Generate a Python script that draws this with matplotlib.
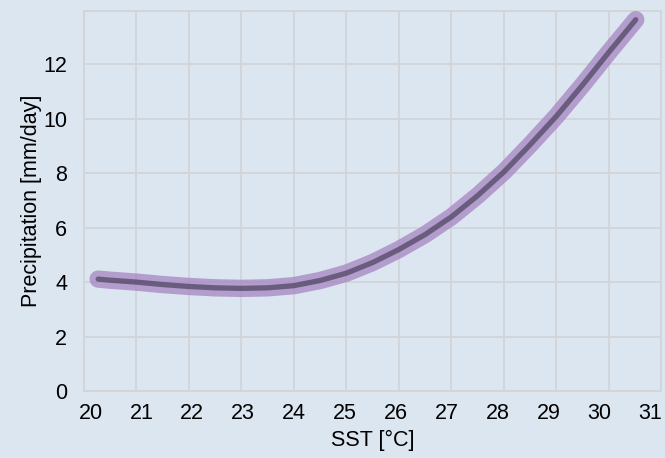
import matplotlib
matplotlib.use("Agg")
import matplotlib.pyplot as plt

plt.rcParams['font.family'] = ['Liberation Sans', 'DejaVu Sans']

# Sea surface temperature (°C) and the precipitation response (mm/day)
sst = [20.27, 20.5, 21.0, 21.5, 22.0, 22.5, 23.0, 23.5, 24.0, 24.5, 25.0,
       25.5, 26.0, 26.5, 27.0, 27.5, 28.0, 28.5, 29.0, 29.5, 30.0, 30.51]
precip = [4.11, 4.07, 4.00, 3.91, 3.84, 3.79, 3.77, 3.79, 3.87, 4.06, 4.33,
          4.72, 5.20, 5.75, 6.40, 7.18, 8.05, 9.05, 10.10, 11.25, 12.45, 13.64]

x_ticks = list(range(20, 32))
y_ticks = [0, 2, 4, 6, 8, 10, 12]

bg = "#dce6f1"
grid_col = "#d2d4d7"

fig = plt.figure(figsize=(6.65, 4.58), dpi=100, facecolor=bg)
ax = fig.add_axes([0.1263, 0.1463, 0.8684, 0.8303], facecolor=bg)

# wide translucent band with a thin dark core line
ax.plot(sst, precip, color="#a381c0", alpha=0.72, lw=12.5,
        solid_capstyle="round", solid_joinstyle="round", zorder=3)
ax.plot(sst, precip, color="#2e2840", alpha=0.55, lw=3.8,
        solid_capstyle="round", solid_joinstyle="round", zorder=4)

ax.set_xlim(20, 31)
ax.set_ylim(0, 13.97)

# grid at whole degrees; labels sit on their own (slightly compressed) positions
ax.set_xticks(x_ticks)
ax.set_xticklabels([])
label_pos = [20.124 + (v - 20) * 0.9695 for v in x_ticks]
ax.set_xticks(label_pos, minor=True)
ax.set_xticklabels([str(v) for v in x_ticks], minor=True)
ax.tick_params(axis="x", which="both", length=0)
ax.tick_params(axis="x", which="minor", pad=9, labelsize=15.5, colors="black")

ax.set_yticks(y_ticks)
ax.set_yticklabels([str(v) for v in y_ticks])
ax.tick_params(axis="y", length=0, pad=12, labelsize=15.5)

ax.grid(True, which="major", color=grid_col, lw=1.3, zorder=0)
for s in ax.spines.values():
    s.set_color(grid_col)
    s.set_linewidth(1.3)

ax.set_xlabel("SST [°C]", fontsize=15.5, labelpad=4)
ax.set_ylabel("Precipitation [mm/day]", fontsize=15.5, labelpad=1)

fig.savefig("out.png", dpi=100, facecolor=bg)
